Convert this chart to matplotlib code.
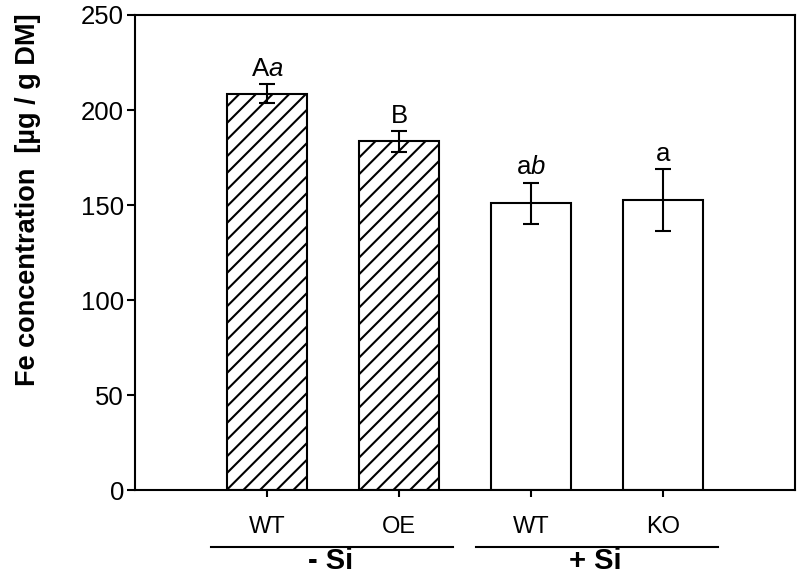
import matplotlib
matplotlib.use("Agg")
import matplotlib.pyplot as plt
import matplotlib.transforms as mtransforms
from matplotlib.lines import Line2D

plt.rcParams['font.family'] = ['Liberation Sans', 'DejaVu Sans']
plt.rcParams['mathtext.fontset'] = 'custom'
plt.rcParams['mathtext.rm'] = 'Liberation Sans'
plt.rcParams['mathtext.it'] = 'Liberation Sans:italic'
plt.rcParams['hatch.linewidth'] = 1.5

categories = ["WT", "OE", "WT", "KO"]
values = [208.5, 183.6, 151.0, 152.8]
errors = [5.0, 5.4, 10.8, 16.2]
hatched = [True, True, False, False]
letters = ["A$\\mathit{a}$", "B", "a$\\mathit{b}$", "a"]
groups = ["- Si", "+ Si"]
yticks = [0, 50, 100, 150, 200, 250]

fig = plt.figure(figsize=(8.0, 5.74), dpi=100)
ax = fig.add_axes([0.16875, 0.1455, 0.825, 0.8284])

x = [1, 2, 3, 4]
for xi, v, h in zip(x, values, hatched):
    ax.bar(xi, v, width=0.6, color='white', edgecolor='black', linewidth=1.5,
           hatch='//' if h else None, zorder=2)
ax.errorbar(x, values, yerr=errors, fmt='none', ecolor='black', elinewidth=1.5,
            capsize=5.5, capthick=1.5, zorder=3)

for xi, v, e, t in zip(x, values, errors, letters):
    ax.annotate(t, (xi, v + e), xytext=(0, 6), textcoords='offset points',
                ha='center', va='baseline', fontsize=18.5)

ax.set_xlim(0, 5)
ax.set_ylim(0, 250)
ax.set_yticks(yticks)
ax.set_yticklabels([str(t) for t in yticks], fontsize=18.5)
ax.set_xticks(x)
ax.set_xticklabels([])
ax.tick_params(axis='y', direction='out', length=6, width=1.5, pad=2)
ax.tick_params(axis='x', direction='out', length=5, width=1.5)
for s in ax.spines.values():
    s.set_linewidth(1.5)

trans = mtransforms.blended_transform_factory(ax.transData, ax.transAxes)
for xi, c in zip(x, categories):
    ax.text(xi, -0.0904, c, transform=trans, ha='center', va='baseline', fontsize=17)

for (x0, x1), g, xc in zip([(0.575, 2.41), (2.585, 4.415)], groups, [1.48, 3.49]):
    ax.add_line(Line2D([x0, x1], [-0.119, -0.119], transform=trans, color='black',
                       linewidth=1.5, clip_on=False))
    ax.text(xc, -0.166, g, transform=trans, ha='center', va='baseline',
            fontsize=21, fontweight='bold')

fig.text(28 / 800, 1 - 200 / 574, "Fe concentration  [µg / g DM]", rotation=90,
         ha='center', va='center', fontsize=19.5, fontweight='bold')

fig.savefig("out.png", dpi=100)
